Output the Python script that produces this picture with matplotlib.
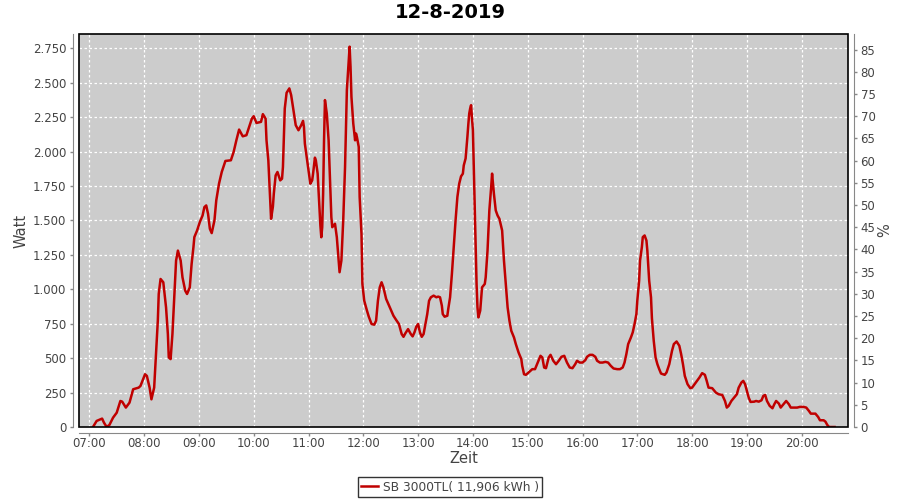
import matplotlib
matplotlib.use('Agg')
import matplotlib.pyplot as plt
from matplotlib.ticker import FuncFormatter
from matplotlib.patches import Rectangle

# Daten: Uhrzeit und Leistung (W)
titel = '12-8-2019'
serie = 'SB 3000TL( 11,906 kWh )'

zeit = [
    '07:04', '07:08', '07:14', '07:16', '07:19', '07:22', '07:26', '07:30', '07:34', '07:36', '07:40', '07:44', '07:48', '07:54', '07:56',
    '08:01', '08:03', '08:06', '08:08', '08:11', '08:13', '08:15', '08:16', '08:18', '08:21', '08:24', '08:26', '08:27', '08:29', '08:31',
    '08:33', '08:35', '08:37', '08:40', '08:42', '08:45', '08:47', '08:50', '08:52', '08:54', '08:55', '08:58',
    '09:01', '09:04', '09:06', '09:08', '09:10', '09:12', '09:14', '09:17', '09:19', '09:22', '09:25', '09:29', '09:35', '09:38', '09:41',
    '09:44', '09:48', '09:52', '09:55', '09:58',
    '10:00', '10:03', '10:08', '10:10', '10:13', '10:14', '10:16', '10:17', '10:18', '10:19', '10:21', '10:22', '10:24', '10:26', '10:29',
    '10:31', '10:32', '10:33', '10:34', '10:36', '10:39', '10:41', '10:44', '10:46', '10:49', '10:52', '10:54', '10:55', '10:56', '10:58',
    '11:00', '11:02', '11:04', '11:05', '11:07', '11:08', '11:10', '11:12', '11:13', '11:14', '11:15', '11:16', '11:17', '11:18', '11:20',
    '11:22', '11:24', '11:25', '11:26', '11:29', '11:31', '11:33', '11:34', '11:36', '11:38', '11:40', '11:41', '11:42', '11:44', '11:45',
    '11:46', '11:47', '11:49', '11:51', '11:52', '11:53', '11:55', '11:56', '11:58', '11:59',
    '12:01', '12:04', '12:06', '12:09', '12:12', '12:14', '12:16', '12:18', '12:20', '12:22', '12:25', '12:29', '12:33', '12:36', '12:39',
    '12:42', '12:44', '12:46', '12:49', '12:52', '12:54', '12:56', '12:58',
    '13:00', '13:02', '13:04', '13:06', '13:08', '13:10', '13:12', '13:14', '13:17', '13:20', '13:22', '13:24', '13:26', '13:27', '13:29',
    '13:32', '13:33', '13:35', '13:37', '13:39', '13:41', '13:43', '13:45', '13:47', '13:49', '13:50', '13:52', '13:54', '13:55', '13:56',
    '13:57', '13:58', '13:59',
    '14:00', '14:01', '14:02', '14:03', '14:04', '14:05', '14:06', '14:08', '14:10', '14:13', '14:14', '14:16', '14:18', '14:20', '14:21',
    '14:23', '14:25', '14:27', '14:29', '14:32', '14:34', '14:36', '14:38', '14:40', '14:42', '14:45', '14:47', '14:50', '14:53', '14:54',
    '14:56', '14:58',
    '15:01', '15:05', '15:08', '15:11', '15:14', '15:16', '15:18', '15:20', '15:23', '15:25', '15:28', '15:31', '15:34', '15:37', '15:40',
    '15:43', '15:46', '15:49', '15:52', '15:54', '15:57',
    '16:00', '16:03', '16:05', '16:08', '16:11', '16:14', '16:16', '16:19', '16:22', '16:25', '16:28', '16:31', '16:34', '16:38', '16:41',
    '16:44', '16:46', '16:48', '16:50', '16:53', '16:55', '16:57', '16:59',
    '17:00', '17:02', '17:03', '17:05', '17:06', '17:08', '17:10', '17:11', '17:13', '17:15', '17:16', '17:18', '17:20', '17:22', '17:24',
    '17:26', '17:30', '17:32', '17:35', '17:38', '17:40', '17:43', '17:46', '17:48', '17:50', '17:52', '17:55', '17:58',
    '18:00', '18:04', '18:08', '18:11', '18:14', '18:16', '18:18', '18:22', '18:26', '18:29', '18:33', '18:36', '18:38', '18:40', '18:43',
    '18:46', '18:49', '18:51', '18:54', '18:56', '18:58',
    '19:00', '19:02', '19:04', '19:08', '19:10', '19:13', '19:16', '19:18', '19:20', '19:22', '19:25', '19:28', '19:30', '19:32', '19:35',
    '19:37', '19:40', '19:43', '19:46', '19:48', '19:52', '19:55', '19:58',
    '20:02', '20:05', '20:08', '20:10', '20:15', '20:18', '20:20', '20:24', '20:26', '20:28', '20:30', '20:36',
]

watt = [
    0, 44, 61, 32, 0, 15, 68, 104, 189, 184, 141, 177, 274, 286, 298,
    383, 371, 286, 201, 286, 529, 772, 966, 1075, 1051, 869, 675, 505, 493, 675,
    942, 1209, 1281, 1209, 1087, 990, 966, 1014, 1184, 1306, 1379, 1427,
    1488, 1536, 1597, 1609, 1548, 1439, 1408, 1500, 1646, 1767, 1852, 1932, 1937, 1997, 2082,
    2160, 2111, 2119, 2179, 2240,
    2257, 2208, 2216, 2272, 2240, 2082, 1937, 1791, 1646, 1512, 1600, 1694, 1827, 1852, 1791,
    1803, 1888, 2094, 2313, 2427, 2459, 2410, 2277, 2192, 2155, 2192, 2223, 2179, 2058, 1961,
    1864, 1767, 1791, 1840, 1956, 1937, 1840, 1597, 1463, 1378, 1451, 1694, 2082, 2374, 2277,
    2082, 1718, 1524, 1451, 1476, 1378, 1209, 1124, 1209, 1500, 1888, 2179, 2447, 2653, 2762,
    2616, 2398, 2204, 2082, 2131, 2106, 2034, 1670, 1403, 1039,
    917, 845, 801, 748, 743, 772, 917, 1014, 1051, 1014, 930, 869, 808, 777, 748,
    675, 655, 680, 711, 675, 658, 687, 728,
    748, 687, 655, 675, 748, 820, 917, 942, 954, 942, 947, 942, 881, 820, 801,
    808, 857, 942, 1112, 1306, 1500, 1670, 1767, 1820, 1840, 1900, 1950, 2110, 2200, 2277,
    2313, 2337, 2240,
    2155, 1888, 1597, 1300, 1039, 869, 796, 845, 1014, 1039, 1087, 1281, 1573, 1743, 1840,
    1694, 1573, 1536, 1512, 1427, 1209, 1039, 869, 772, 699, 650, 602, 541, 493, 444,
    383, 379,
    396, 420, 420, 468, 517, 505, 432, 427, 505, 524, 481, 456, 481, 510, 517,
    468, 432, 427, 456, 481, 468,
    468, 485, 510, 524, 524, 510, 481, 468, 468, 473, 468, 444, 425, 420, 420,
    432, 468, 529, 602, 650, 687, 748, 820,
    917, 1063, 1209, 1306, 1379, 1391, 1354, 1281, 1063, 942, 790, 626, 505, 456, 420,
    388, 379, 396, 456, 553, 602, 621, 590, 529, 456, 371, 311, 282,
    286, 323, 359, 391, 379, 335, 286, 282, 250, 238, 233, 189, 141, 153, 189,
    213, 238, 286, 323, 335, 311,
    262, 213, 182, 184, 189, 184, 194, 226, 233, 189, 153, 136, 165, 189, 170,
    141, 165, 189, 165, 141, 141, 141, 146,
    146, 141, 116, 97, 97, 73, 49, 49, 39, 15, 0, 0,
]

watt_ticks = list(range(0, 2751, 250))
prozent_ticks = list(range(0, 86, 5))
stunden = list(range(7, 21))

assert len(zeit) == len(watt)

# Uhrzeit -> Minuten seit Mitternacht
minuten = [int(z[:2]) * 60 + int(z[3:]) for z in zeit]

grau_text = '#444444'
grau_achse = '#888888'

fig = plt.figure(figsize=(9, 5), dpi=100)
fig.subplots_adjust(left=79 / 900, right=848 / 900, top=1 - 34 / 500, bottom=1 - 427 / 500)
ax = fig.add_subplot(111)
ax.set_facecolor('#cccccc')

ax.plot(minuten, watt, color='#c00000', linewidth=1.8, zorder=3)

ax.set_xlim(408.7, 1250.7)
ax.set_ylim(0, 2854)
ax.set_xticks([h * 60 for h in stunden])
ax.xaxis.set_major_formatter(FuncFormatter(lambda v, p: f'{int(v) // 60:02d}:{int(v) % 60:02d}'))
ax.set_yticks(watt_ticks)
ax.yaxis.set_major_formatter(FuncFormatter(lambda v, p: f'{int(v):,}'.replace(',', '.')))

ax.grid(True, color='white', linestyle=(0, (2, 2)), linewidth=0.9)
ax.set_axisbelow(True)

# Achsen nach außen versetzt (JFreeChart-Stil)
for s in ['left', 'bottom']:
    ax.spines[s].set_position(('outward', 4))
    ax.spines[s].set_color(grau_achse)
ax.spines['top'].set_visible(False)
ax.spines['right'].set_visible(False)
ax.tick_params(axis='both', direction='out', length=2, width=1, color=grau_achse,
               labelcolor=grau_text, labelsize=8.5, pad=3)
ax.tick_params(axis='x', pad=1)

# Rahmen um den Plotbereich
ax.add_patch(Rectangle((0, 0), 1, 1, transform=ax.transAxes, fill=False,
                       edgecolor='black', linewidth=1.2, zorder=4, clip_on=False))

ax.set_ylabel('Watt', fontsize=10.5, color=grau_text, labelpad=3)
ax.set_xlabel('Zeit', fontsize=10.5, color=grau_text, labelpad=1)

# rechte Achse in %
ax2 = ax.twinx()
ax2.set_ylim(0, 88.5)
ax2.set_yticks(prozent_ticks)
for s in ['left', 'bottom', 'top']:
    ax2.spines[s].set_visible(False)
ax2.spines['right'].set_position(('outward', 4))
ax2.spines['right'].set_color(grau_achse)
ax2.tick_params(axis='y', direction='out', length=2, width=1, color=grau_achse,
                labelcolor=grau_text, labelsize=8.5, pad=3)
ax2.set_ylabel('%', fontsize=10.5, color=grau_text, labelpad=1)

fig.text(0.5, 1 - 13 / 500, titel, ha='center', va='center', fontsize=14, fontweight='bold')

handle, = ax.plot([], [], color='#c00000', linewidth=1.8)
fig.legend([handle], [serie], loc='center', bbox_to_anchor=(0.5, 1 - 487 / 500),
           frameon=True, fancybox=False, edgecolor='black', fontsize=8.8,
           handlelength=1.4, handletextpad=0.4, borderpad=0.25, borderaxespad=0,
           labelcolor=grau_text).get_frame().set_linewidth(1)

plt.savefig('out.png', dpi=100)
